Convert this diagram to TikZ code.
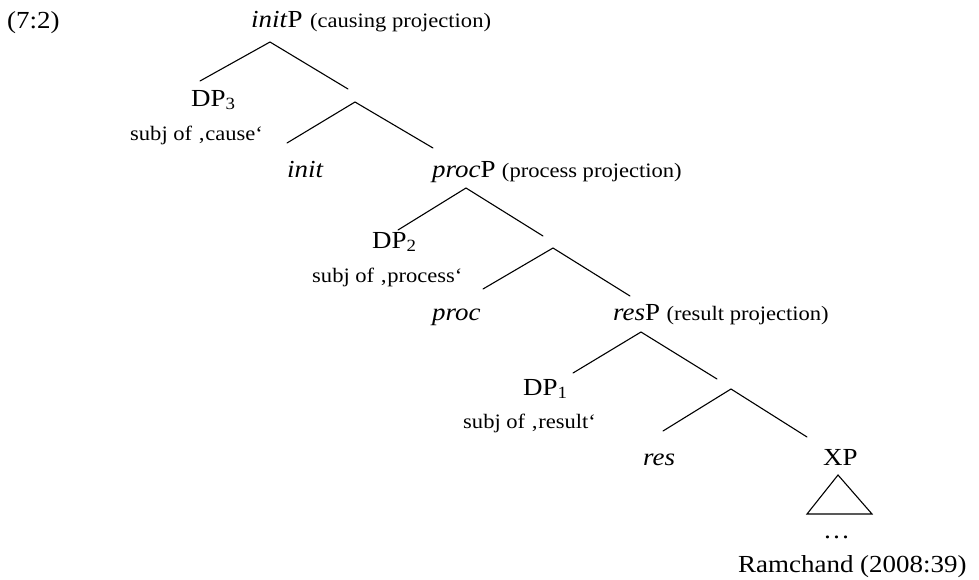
\documentclass[tikz,border=0pt]{standalone}
\usepackage{fontspec}
\setmainfont[FakeStretch=1.1]{Liberation Serif}
\begin{document}
\begin{tikzpicture}[x=1pt,y=-1pt,
  lbl/.style={anchor=base west, inner sep=0pt, font=\fontsize{24.5}{28}\selectfont},
  note/.style={anchor=base west, inner sep=0pt, font=\fontsize{20.5}{24}\selectfont},
  branch/.style={line width=1.1pt, line cap=round}]
\useasboundingbox (0,0) rectangle (979,579);
% labels
\node[lbl] (ex) at (7,28) {(7:2)};
\node[lbl] (initP) at (251,27) {\textit{init}P};
\node[note, xshift=7pt] (initPn) at (initP.base east) {(causing projection)};
\node[lbl] (DP3) at (191,106) {DP\textsubscript{3}};
\node[note] (subj3) at (130,140) {subj of ‚cause‘};
\node[lbl] (init) at (287,177) {\textit{init}};
\node[lbl] (procP) at (432,177) {\textit{proc}P};
\node[note, xshift=6pt] (procPn) at (procP.base east) {(process projection)};
\node[lbl] (DP2) at (372,248) {DP\textsubscript{2}};
\node[note] (subj2) at (312,282) {subj of ‚process‘};
\node[lbl] (proc) at (432,320) {\textit{proc}};
\node[lbl] (resP) at (613,320) {\textit{res}P};
\node[note, xshift=6pt] (resPn) at (resP.base east) {(result projection)};
\node[lbl] (DP1) at (523,395) {DP\textsubscript{1}};
\node[note] (subj1) at (463,428) {subj of ‚result‘};
\node[lbl] (res) at (643,465) {\textit{res}};
\node[lbl] (XP) at (823,465) {XP};
\node[lbl] (dots) at (823,538) {…};
\node[lbl] (ram) at (738,572) {Ramchand (2008:39)};
% branch points
\coordinate (t0) at (270,42);  \coordinate (l0) at (200,81);  \coordinate (r0) at (348,89);
\coordinate (t1) at (355,102); \coordinate (l1) at (287,143); \coordinate (r1) at (433,148);
\coordinate (t2) at (466,188); \coordinate (l2) at (398,230); \coordinate (r2) at (543,236);
\coordinate (t3) at (553,248); \coordinate (l3) at (483,289); \coordinate (r3) at (630,296);
\coordinate (t4) at (641,332); \coordinate (l4) at (573,373); \coordinate (r4) at (717,379);
\coordinate (t5) at (731,389); \coordinate (l5) at (663,431); \coordinate (r5) at (807,437);
\coordinate (tri) at (838,475); \coordinate (triL) at (807,514); \coordinate (triR) at (872,514);
\draw[branch] (l0) -- (t0) -- (r0);
\draw[branch] (l1) -- (t1) -- (r1);
\draw[branch] (l2) -- (t2) -- (r2);
\draw[branch] (l3) -- (t3) -- (r3);
\draw[branch] (l4) -- (t4) -- (r4);
\draw[branch] (l5) -- (t5) -- (r5);
\draw[branch, line join=miter] (tri) -- (triR) -- (triL) -- cycle;
\end{tikzpicture}
\end{document}
